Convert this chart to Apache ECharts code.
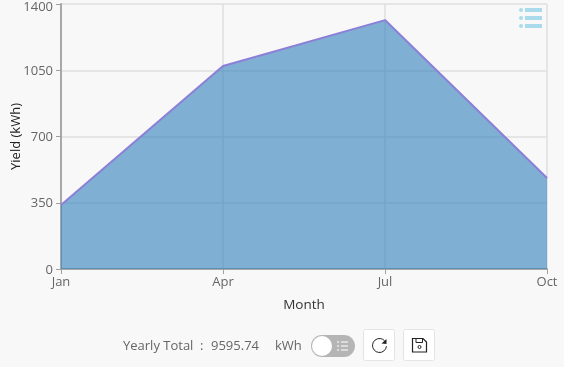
<!DOCTYPE html>
<html>
  <head>
    <title></title>
    <meta charset="UTF-8" />
    <script src="https://cdn.jsdelivr.net/npm/echarts@6/dist/echarts.min.js"></script>
    <style>
      html, body { margin: 0; padding: 0; background: #f8f8f8; }
    </style>
  </head>
  <body>
    <div id="main"></div>
    <script>
      const width = 564;
      const height = 367;
      const main = document.getElementById('main');
      main.style.width = `${width}px`;
      main.style.height = `${height}px`;

      const months = ['Jan', 'Apr', 'Jul', 'Oct'];
      const yields = [338, 1072, 1315, 481];
      const yTicks = [0, 350, 700, 1050, 1400];
      const totalLabel = 'Yearly Total';
      const totalValue = '9595.74';
      const totalUnit = 'kWh';

      const fontFamily = '"Open Sans", "Noto Sans", sans-serif';
      const textColor = '#666';
      const yMax = yTicks[yTicks.length - 1];

      const footerText = (text, x) => ({
        type: 'text',
        left: x,
        top: 340,
        style: { text, fill: textColor, font: `13px ${fontFamily}` },
      });

      // little list icon: three dots with three bars
      const listIcon = (x, y, r, barGap, barW, barH, rowGap, fill) => {
        const out = [];
        for (let i = 0; i < 3; i++) {
          out.push({
            type: 'circle',
            shape: { cx: x, cy: y + i * rowGap, r },
            style: { fill },
          });
          out.push({
            type: 'rect',
            shape: { x: x + barGap, y: y + i * rowGap - barH / 2, width: barW, height: barH },
            style: { fill },
          });
        }
        return out;
      };

      const squareButton = (x) => ({
        type: 'rect',
        shape: { x: x + 0.5, y: 329.5, width: 31, height: 31, r: 2 },
        style: { fill: '#fff', stroke: '#e4e4e4', lineWidth: 1 },
      });

      const myChart = echarts.init(main);
      const option = {
        backgroundColor: '#f8f8f8',
        animation: false,
        textStyle: { fontFamily },
        grid: { left: 61, top: 4, right: 17, bottom: 98, outerBoundsMode: 'none' },
        xAxis: {
          type: 'category',
          data: months,
          boundaryGap: false,
          name: 'Month',
          nameLocation: 'middle',
          nameGap: 29,
          nameTextStyle: { color: '#333', fontSize: 13.5 },
          axisLine: { lineStyle: { color: '#a8a8a8', width: 2 } },
          axisTick: { show: true, length: 5, lineStyle: { color: '#a0a0a0' } },
          axisLabel: { color: textColor, fontSize: 13, margin: 7 },
          splitLine: { show: true, lineStyle: { color: '#dfdfdf', width: 1.5 } },
        },
        yAxis: {
          type: 'value',
          min: yTicks[0],
          max: yMax,
          interval: yTicks[1],
          name: 'Yield (kWh)',
          nameLocation: 'middle',
          nameGap: 38,
          nameMoveOverlap: false,
          nameTextStyle: { color: '#222', fontSize: 13 },
          axisLine: { show: true, lineStyle: { color: '#a8a8a8', width: 2 } },
          axisTick: { show: true, length: 5, lineStyle: { color: '#a0a0a0' } },
          axisLabel: {
            color: textColor,
            fontSize: 13,
            margin: 8,
            formatter: (v) => (v === yMax ? `{top|${v}}` : `{mid|${v}}`),
            rich: {
              top: { color: textColor, fontSize: 13, padding: [6, 0, 0, 0] },
              mid: { color: textColor, fontSize: 13, padding: [2, 0, 0, 0] },
            },
          },
          splitLine: { show: true, lineStyle: { color: '#dfdfdf', width: 1.5 } },
        },
        series: [
          {
            type: 'line',
            data: yields,
            showSymbol: false,
            z: 5,
            lineStyle: { color: '#8c7fd8', width: 2 },
            areaStyle: { color: '#2f7fbb', opacity: 0.6 },
          },
        ],
        graphic: [
          ...listIcon(521, 10, 2, 4, 17, 4, 8, '#a9dbec'),
          footerText(totalLabel, 123),
          footerText(':', 200),
          footerText(totalValue, 211),
          footerText(totalUnit, 275),
          {
            type: 'rect',
            shape: { x: 311, y: 335, width: 44, height: 22, r: 11 },
            style: { fill: '#b5b5b5' },
          },
          ...listIcon(338, 342, 1, 3, 7, 1.5, 4, '#e8e8e8'),
          {
            type: 'circle',
            shape: { cx: 322, cy: 346, r: 10 },
            style: { fill: '#fff' },
          },
          squareButton(363),
          squareButton(403),
          // reload icon
          {
            type: 'arc',
            shape: { cx: 379.5, cy: 345.5, r: 7, startAngle: 0.1, endAngle: 5.5 },
            style: { stroke: '#222', fill: 'none', lineWidth: 1 },
          },
          {
            type: 'polygon',
            shape: { points: [[386.5, 339], [386.5, 344], [381.5, 343.5]] },
            style: { fill: '#222' },
          },
          // save icon
          {
            type: 'polygon',
            shape: { points: [[412.5, 338.5], [423, 338.5], [426.5, 342], [426.5, 352], [412.5, 352]] },
            style: { stroke: '#222', fill: 'none', lineWidth: 1.2 },
          },
          {
            type: 'rect',
            shape: { x: 416, y: 338.5, width: 6.5, height: 4 },
            style: { stroke: '#222', fill: 'none', lineWidth: 1 },
          },
          {
            type: 'circle',
            shape: { cx: 419.5, cy: 347, r: 1.5 },
            style: { stroke: '#222', fill: 'none', lineWidth: 1 },
          },
        ],
      };
      myChart.setOption(option);
    </script>
  </body>
</html>
